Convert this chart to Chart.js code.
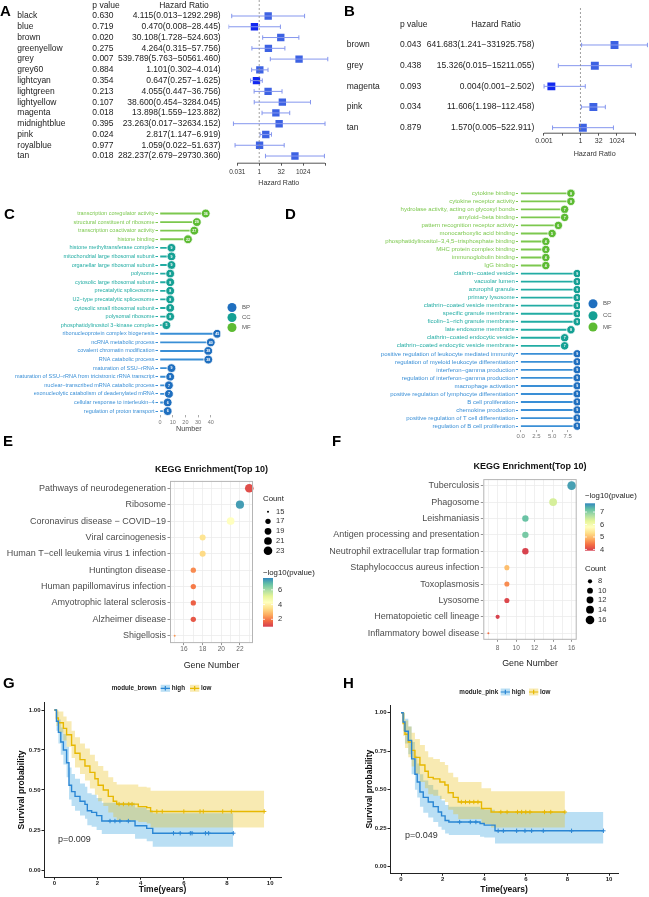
<!DOCTYPE html>
<html>
<head>
<meta charset="utf-8">
<title>Module survival and enrichment</title>
<script src="https://cdn.jsdelivr.net/npm/chart.js@4.4.1/dist/chart.umd.min.js"></script>
<style>
  body { margin: 0; background: #fff; }
  #fig { position: relative; width: 649px; height: 897px; overflow: hidden; font-family: "Liberation Sans", Arial, sans-serif; }
  #fig canvas { position: absolute; }
  .tag { position: absolute; font-weight: bold; font-size: 15px; line-height: 15px; color: #000; }
</style>
</head>
<body>
<div id="fig">
  <canvas id="cA" width="330" height="195" style="left:0;top:0"></canvas>
  <canvas id="cB" width="319" height="195" style="left:330px;top:0"></canvas>
  <canvas id="cC" width="290" height="245" style="left:0;top:200px"></canvas>
  <canvas id="cD" width="319" height="265" style="left:330px;top:180px"></canvas>
  <canvas id="cE" width="330" height="215" style="left:0;top:458px"></canvas>
  <canvas id="cF" width="319" height="215" style="left:330px;top:458px"></canvas>
  <canvas id="cG" width="330" height="225" style="left:0;top:672px"></canvas>
  <canvas id="cH" width="319" height="225" style="left:330px;top:672px"></canvas>
  <div class="tag" style="left:0;top:3px">A</div>
  <div class="tag" style="left:344px;top:3px">B</div>
  <div class="tag" style="left:4px;top:206px">C</div>
  <div class="tag" style="left:285px;top:206px">D</div>
  <div class="tag" style="left:3px;top:433px">E</div>
  <div class="tag" style="left:332px;top:433px">F</div>
  <div class="tag" style="left:3px;top:675px">G</div>
  <div class="tag" style="left:343px;top:675px">H</div>
</div>
<script>
// ================= A: cox, all modules =================
const modA = ['black', 'blue', 'brown', 'greenyellow', 'grey', 'grey60', 'lightcyan', 'lightgreen',
  'lightyellow', 'magenta', 'midnightblue', 'pink', 'royalblue', 'tan'];
const pA = [0.630, 0.719, 0.020, 0.275, 0.007, 0.884, 0.354, 0.213, 0.107, 0.018, 0.395, 0.024, 0.977, 0.018];
const hrA = [4.115, 0.470, 30.108, 4.264, 539.789, 1.101, 0.647, 4.055, 38.600, 13.898, 23.263, 2.817, 1.059, 282.237];
const loA = [0.013, 0.008, 1.728, 0.315, 5.763, 0.302, 0.257, 0.447, 0.454, 1.559, 0.017, 1.147, 0.022, 2.679];
const hiA = [1292.298, 28.445, 524.603, 57.756, 50561.460, 4.014, 1.625, 36.756, 3284.045, 123.882, 32634.152, 6.919, 51.637, 29730.360];
const tickA = [-5, 0, 5, 10, 15];            // log2(HR)
const tickLabA = ['0.031', '1', '32', '1024', ''];

// ================= B: cox, selected modules =================
const modB = ['brown', 'grey', 'magenta', 'pink', 'tan'];
const pB = [0.043, 0.438, 0.093, 0.034, 0.879];
const hrB = [641.683, 15.326, 0.004, 11.606, 1.570];
const loB = [1.241, 0.015, 0.001, 1.198, 0.005];
const hiB = [331925.758, 15211.055, 2.502, 112.458, 522.911];
const tickB = [-10, -5, 0, 5, 10, 15];
const tickLabB = ['0.001', '', '1', '32', '1024', ''];

// ================= C / D: GO lollipops =================
const cTerms = ['transcription coregulator activity', 'structural constituent of ribosome', 'transcription coactivator activity',
  'histone binding', 'histone methyltransferase complex', 'mitochondrial large ribosomal subunit',
  'organellar large ribosomal subunit', 'polysome', 'cytosolic large ribosomal subunit', 'precatalytic spliceosome',
  'U2−type precatalytic spliceosome', 'cytosolic small ribosomal subunit', 'polysomal ribosome',
  'phosphatidylinositol 3−kinase complex', 'ribonucleoprotein complex biogenesis', 'ncRNA metabolic process',
  'covalent chromatin modification', 'RNA catabolic process', 'maturation of SSU−rRNA',
  'maturation of SSU−rRNA from tricistronic rRNA transcript', 'nuclear−transcribed mRNA catabolic process',
  'exonucleolytic catabolism of deadenylated mRNA', 'cellular response to interleukin−4', 'regulation of proton transport'];
const cCount = [36, 29, 27, 22, 9, 9, 9, 8, 8, 8, 8, 8, 8, 5, 45, 40, 38, 38, 9, 8, 7, 7, 6, 6];
const cGroup = ['MF', 'MF', 'MF', 'MF', 'CC', 'CC', 'CC', 'CC', 'CC', 'CC', 'CC', 'CC', 'CC', 'CC',
  'BP', 'BP', 'BP', 'BP', 'BP', 'BP', 'BP', 'BP', 'BP', 'BP'];
const cTicks = [0, 10, 20, 30, 40];

const dTerms = ['cytokine binding', 'cytokine receptor activity', 'hydrolase activity, acting on glycosyl bonds',
  'amyloid−beta binding', 'pattern recognition receptor activity', 'monocarboxylic acid binding',
  'phosphatidylinositol−3,4,5−trisphosphate binding', 'MHC protein complex binding', 'immunoglobulin binding', 'IgG binding',
  'clathrin−coated vesicle', 'vacuolar lumen', 'azurophil granule', 'primary lysosome', 'clathrin−coated vesicle membrane',
  'specific granule membrane', 'ficolin−1−rich granule membrane', 'late endosome membrane',
  'clathrin−coated endocytic vesicle', 'clathrin−coated endocytic vesicle membrane',
  'positive regulation of leukocyte mediated immunity', 'regulation of myeloid leukocyte differentiation',
  'interferon−gamma production', 'regulation of interferon−gamma production', 'macrophage activation',
  'positive regulation of lymphocyte differentiation', 'B cell proliferation', 'chemokine production',
  'positive regulation of T cell differentiation', 'regulation of B cell proliferation'];
const dCount = [8, 8, 7, 7, 6, 5, 4, 4, 4, 4, 9, 9, 9, 9, 9, 9, 9, 8, 7, 7, 9, 9, 9, 9, 9, 9, 9, 9, 9, 9];
const dGroup = ['MF', 'MF', 'MF', 'MF', 'MF', 'MF', 'MF', 'MF', 'MF', 'MF',
  'CC', 'CC', 'CC', 'CC', 'CC', 'CC', 'CC', 'CC', 'CC', 'CC',
  'BP', 'BP', 'BP', 'BP', 'BP', 'BP', 'BP', 'BP', 'BP', 'BP'];
const dTicks = [0, 2.5, 5, 7.5];

// ================= E / F: KEGG bubbles =================
const eTerms = ['Pathways of neurodegeneration', 'Ribosome', 'Coronavirus disease − COVID−19', 'Viral carcinogenesis',
  'Human T−cell leukemia virus 1 infection', 'Huntington disease', 'Human papillomavirus infection',
  'Amyotrophic lateral sclerosis', 'Alzheimer disease', 'Shigellosis'];
const eCount = [23, 22, 21, 18, 18, 17, 17, 17, 17, 15];
const eLogP = [1.3, 7.3, 4.3, 3.6, 3.4, 2.2, 2.0, 1.6, 1.45, 2.4];
const eSizeKeys = [15, 17, 19, 21, 23];
const eBarKeys = [2, 4, 6];

const fTerms = ['Tuberculosis', 'Phagosome', 'Leishmaniasis', 'Antigen processing and presentation',
  'Neutrophil extracellular trap formation', 'Staphylococcus aureus infection', 'Toxoplasmosis', 'Lysosome',
  'Hematopoietic cell lineage', 'Inflammatory bowel disease'];
const fCount = [16, 14, 11, 11, 11, 9, 9, 9, 8, 7];
const fLogP = [7.5, 6.4, 7.2, 7.1, 3.95, 5.0, 4.6, 4.0, 3.95, 4.4];
const fSizeKeys = [8, 10, 12, 14, 16];
const fBarKeys = [4, 5, 6, 7];

// ================= G / H: Kaplan-Meier =================
const gHighT = [0, 0.1, 0.19, 0.3, 0.42, 0.57, 0.68, 0.8, 0.96, 1.19, 1.42, 1.53, 1.73, 1.96, 2.2, 3.74, 4.28, 4.56, 8.29];
const gHighS = [1, 0.93, 0.86, 0.8, 0.75, 0.67, 0.53, 0.49, 0.46, 0.43, 0.41, 0.37, 0.36, 0.34, 0.306, 0.277, 0.26, 0.23, 0.23];
const gHighL = [1, 0.87, 0.79, 0.72, 0.66, 0.58, 0.44, 0.40, 0.37, 0.34, 0.32, 0.28, 0.27, 0.25, 0.225, 0.195, 0.18, 0.145, 0.145];
const gHighU = [1, 0.99, 0.94, 0.89, 0.85, 0.77, 0.64, 0.60, 0.57, 0.54, 0.52, 0.48, 0.47, 0.45, 0.42, 0.39, 0.375, 0.355, 0.355];
const gHighCens = [2.58, 2.81, 3.04, 3.43, 5.52, 5.83, 6.3, 6.38, 7.0, 7.15, 8.29];
const gLowT = [0, 0.1, 0.19, 0.42, 0.57, 0.8, 0.96, 1.19, 1.42, 1.65, 1.88, 2.03, 2.27, 2.5, 2.73, 2.89, 3.89, 4.28, 4.46, 9.72];
const gLowS = [1, 0.95, 0.92, 0.885, 0.845, 0.78, 0.73, 0.69, 0.65, 0.61, 0.57, 0.53, 0.50, 0.46, 0.43, 0.412, 0.396, 0.39, 0.366, 0.366];
const gLowL = [1, 0.9, 0.86, 0.81, 0.77, 0.7, 0.64, 0.6, 0.56, 0.51, 0.47, 0.43, 0.4, 0.36, 0.33, 0.31, 0.3, 0.29, 0.265, 0.265];
const gLowU = [1, 1, 0.99, 0.96, 0.93, 0.87, 0.83, 0.79, 0.76, 0.72, 0.68, 0.65, 0.62, 0.58, 0.55, 0.535, 0.52, 0.515, 0.495, 0.495];
const gLowCens = [3.0, 3.2, 3.45, 3.6, 4.75, 5.0, 6.0, 6.75, 6.9, 7.8, 8.2, 9.72];

const hHighT = [0, 0.1, 0.19, 0.35, 0.51, 0.67, 0.78, 0.91, 1.07, 1.31, 1.55, 1.79, 1.95, 2.12, 2.3, 3.8, 4.0, 4.52, 9.73];
const hHighS = [1, 0.94, 0.88, 0.82, 0.70, 0.60, 0.55, 0.485, 0.45, 0.42, 0.39, 0.355, 0.33, 0.30, 0.29, 0.28, 0.27, 0.233, 0.233];
const hHighL = [1, 0.88, 0.8, 0.73, 0.6, 0.5, 0.45, 0.39, 0.35, 0.32, 0.29, 0.26, 0.24, 0.215, 0.205, 0.195, 0.19, 0.15, 0.15];
const hHighU = [1, 1, 0.96, 0.91, 0.81, 0.72, 0.67, 0.6, 0.56, 0.53, 0.5, 0.46, 0.43, 0.4, 0.39, 0.38, 0.37, 0.355, 0.355];
const hHighCens = [2.82, 3.33, 3.6, 4.67, 4.92, 5.56, 5.96, 6.28, 6.84, 8.2, 9.73];
const hLowT = [0, 0.1, 0.19, 0.35, 0.51, 0.67, 0.91, 1.15, 1.31, 1.55, 1.87, 2.11, 2.27, 2.51, 2.75, 3.87, 4.33, 7.88];
const hLowS = [1, 0.93, 0.86, 0.81, 0.755, 0.71, 0.66, 0.62, 0.58, 0.57, 0.55, 0.53, 0.48, 0.45, 0.42, 0.378, 0.355, 0.355];
const hLowL = [1, 0.85, 0.77, 0.71, 0.65, 0.6, 0.55, 0.51, 0.47, 0.46, 0.44, 0.42, 0.37, 0.34, 0.31, 0.275, 0.255, 0.255];
const hLowU = [1, 1, 0.95, 0.91, 0.87, 0.83, 0.79, 0.75, 0.71, 0.7, 0.68, 0.66, 0.61, 0.58, 0.55, 0.51, 0.49, 0.49];
const hLowCens = [2.9, 3.1, 3.3, 3.5, 3.7, 4.8, 5.1, 5.6, 5.8, 6.0, 6.2, 6.9, 7.2, 7.88];
const kmTicksX = [0, 2, 4, 6, 8, 10];
const kmTicksY = [0, 0.25, 0.5, 0.75, 1];

// ================= helpers =================
const FONT = "'Liberation Sans', Arial, sans-serif";
Chart.defaults.font.family = FONT;
Chart.defaults.color = '#333';
const $ = id => document.getElementById(id);
const font = (size, bold) => `${bold ? 'bold ' : ''}${size}px ${FONT}`;
const fixedTicks = list => s => { s.ticks = list.map(v => ({ value: v })); };

function base(pad) {
  return {
    responsive: false, animation: false, devicePixelRatio: 1, events: [],
    layout: { autoPadding: false, padding: pad },
    plugins: { legend: { display: false }, tooltip: { enabled: false } }
  };
}

const DOT = { BP: '#1f6fbf', CC: '#15a094', MF: '#5dbb33' };
const TXT = { BP: '#3a8fd6', CC: '#22aca3', MF: '#7cc84e' };
const SPECTRAL = ['#d53e4f', '#f46d43', '#fdae61', '#fee08b', '#ffffbf', '#e6f598', '#abdda4', '#66c2a5', '#3288bd'];

function spectral(t) {
  t = Math.max(0, Math.min(1, t)) * (SPECTRAL.length - 1);
  const i = Math.min(Math.floor(t), SPECTRAL.length - 2), f = t - i;
  const a = SPECTRAL[i], b = SPECTRAL[i + 1];
  const ch = (c, k) => parseInt(c.substr(1 + 2 * k, 2), 16);
  const mix = k => Math.round(ch(a, k) + (ch(b, k) - ch(a, k)) * f);
  return `rgb(${mix(0)},${mix(1)},${mix(2)})`;
}

// ================= forest plots =================
function forest(id, names, pv, hr, lo, hi, ticks, tickLab, o) {
  const ciCol = '#8596ee';
  const datasets = [{
    type: 'line', data: [{ x: 0, y: o.yMin }, { x: 0, y: o.yMax }],
    borderColor: '#888', borderWidth: 0.8, borderDash: [2, 2], pointRadius: 0
  }];
  names.forEach((n, i) => datasets.push({
    type: 'line', data: [{ x: Math.log2(lo[i]), y: i }, { x: Math.log2(hi[i]), y: i }],
    borderColor: ciCol, borderWidth: 1, pointStyle: 'line', rotation: 90,
    pointRadius: 2.2, pointBorderColor: ciCol, pointBorderWidth: 1
  }));
  datasets.push({
    type: 'scatter', data: hr.map((v, i) => ({ x: Math.log2(v), y: i })),
    pointStyle: 'rect', pointRadius: o.box, pointBorderWidth: 0,
    pointBackgroundColor: hr.map(v => v < 1 ? '#1228f0' : '#3d62e3')
  });

  const opts = base({ left: o.left, right: o.right, top: o.top, bottom: 0 });
  opts.scales = {
    x: {
      type: 'linear', min: o.xMin, max: o.xMax,
      afterFit: s => { s.height = o.axisH; },
      afterBuildTicks: fixedTicks(ticks),
      ticks: { callback: (v, i) => tickLab[i], font: { size: o.tickSize }, color: '#333', padding: o.tickPad, maxRotation: 0, autoSkip: false },
      grid: { drawOnChartArea: false, tickLength: 3, color: '#555' },
      border: { display: false },
      title: { display: true, text: 'Hazard Ratio', font: { size: o.titleSize }, color: '#333', padding: { top: 0, bottom: o.titlePB } }
    },
    y: { type: 'linear', display: false, reverse: true, min: o.yMin, max: o.yMax }
  };

  new Chart($(id), {
    type: 'scatter', data: { datasets }, options: opts,
    plugins: [{
      id: 'forestText',
      afterDraw(chart) {
        const { ctx, scales: { x, y } } = chart;
        ctx.save();
        // axis line only across the labelled range
        const ay = chart.chartArea.bottom + 0.5;
        ctx.strokeStyle = '#555'; ctx.lineWidth = 1;
        ctx.beginPath();
        ctx.moveTo(x.getPixelForValue(ticks[0]), ay);
        ctx.lineTo(x.getPixelForValue(ticks[ticks.length - 1]), ay);
        ctx.stroke();
        // table columns
        ctx.fillStyle = '#222'; ctx.textBaseline = 'middle'; ctx.font = font(o.textSize);
        ctx.textAlign = 'left';
        ctx.fillText('p value', o.pX, o.headY);
        ctx.textAlign = 'center';
        ctx.fillText('Hazard Ratio', o.hrHeadX, o.headY);
        names.forEach((n, i) => {
          const py = y.getPixelForValue(i);
          ctx.textAlign = 'left';
          ctx.fillText(n, o.nameX, py);
          ctx.fillText(pv[i].toFixed(3), o.pX, py);
          ctx.textAlign = 'right';
          ctx.fillText(`${hr[i].toFixed(3)}(${lo[i].toFixed(3)}−${hi[i].toFixed(3)})`, o.hrX, py);
        });
        ctx.restore();
      }
    }]
  });
}

forest('cA', modA, pA, hrA, loA, hiA, tickA, tickLabA, {
  left: 228.5, right: 1, top: 0, xMin: -7, xMax: 15.9, yMin: -1.486, yMax: 13.62,
  axisH: 32.3, tickSize: 6.5, tickPad: 2.4, titleSize: 7, titlePB: 7.8, box: 5.2,
  textSize: 8.5, nameX: 17.3, pX: 92.3, hrX: 220.7, headY: 6, hrHeadX: 184
});
forest('cB', modB, pB, hrB, loB, hiB, tickB, tickLabB, {
  left: 210.3, right: 0, top: 8, xMin: -11, xMax: 18.77, yMin: -1.79, yMax: 4.243,
  axisH: 62.3, tickSize: 7, tickPad: 0.8, titleSize: 7.2, titlePB: 36.6, box: 5.6,
  textSize: 8.5, nameX: 16.7, pX: 70, hrX: 204.3, headY: 24.3, hrHeadX: 166
});

// ================= GO lollipops =================
function lollipop(id, terms, counts, groups, o) {
  const opts = base({ left: 0, right: o.right, top: o.top, bottom: 0 });
  opts.indexAxis = 'y';
  opts.scales = {
    y: {
      type: 'category', afterFit: s => { s.width = o.yW; },
      ticks: { autoSkip: false, font: { size: o.labSize }, color: c => TXT[groups[c.index]], padding: 1 },
      grid: { drawOnChartArea: false, offset: false, tickLength: 2, color: c => TXT[groups[c.index]] },
      border: { display: false }
    },
    x: {
      type: 'linear', min: o.xMin, max: o.xMax,
      afterFit: s => { s.height = o.axisH; },
      afterBuildTicks: fixedTicks(o.ticks),
      ticks: { font: { size: o.tickSize }, color: '#777', padding: o.tickPad, maxRotation: 0, autoSkip: false, callback: o.fmt },
      grid: { drawOnChartArea: false, tickLength: 2, color: '#aaa' },
      border: { display: false },
      title: { display: !!o.title, text: o.title || '', font: { size: 7.2 }, color: '#444', padding: { top: 0, bottom: o.titlePB || 0 } }
    }
  };
  new Chart($(id), {
    type: 'bar',
    data: {
      labels: terms,
      datasets: [
        { type: 'line', data: counts, showLine: false, order: 0, pointRadius: o.r, pointBorderWidth: 0.8,
          pointBorderColor: '#fff', pointBackgroundColor: groups.map(g => DOT[g]) },
        { type: 'bar', data: counts, order: 1, barThickness: 1.2, backgroundColor: groups.map(g => TXT[g]) }
      ]
    },
    options: opts,
    plugins: [{
      id: 'lolliText',
      afterDatasetsDraw(chart) {
        const { ctx } = chart;
        ctx.save();
        ctx.fillStyle = '#fff'; ctx.font = font(o.numSize, true);
        ctx.textAlign = 'center'; ctx.textBaseline = 'middle';
        chart.getDatasetMeta(0).data.forEach((p, i) => ctx.fillText(String(counts[i]), p.x, p.y + 0.3));
        ['BP', 'CC', 'MF'].forEach((g, k) => {
          ctx.fillStyle = DOT[g];
          ctx.beginPath(); ctx.arc(o.legX, o.legY[k], 4.5, 0, 2 * Math.PI); ctx.fill();
          ctx.fillStyle = '#555'; ctx.font = font(6); ctx.textAlign = 'left';
          ctx.fillText(g, o.legX + 10, o.legY[k]);
        });
        ctx.restore();
      }
    }]
  });
}

lollipop('cC', cTerms, cCount, cGroup, {
  right: 69.7, top: 9.2, yW: 157.5, axisH: 29.6, xMin: -2, xMax: 47.5, ticks: cTicks,
  labSize: 5.5, tickSize: 5.5, tickPad: 1.3, title: 'Number', titlePB: 11.7, r: 4.4, numSize: 3.6,
  legX: 232, legY: [107.5, 117.5, 127.5]
});
lollipop('cD', dTerms, dCount, dGroup, {
  right: 69, top: 9.3, yW: 187.9, axisH: 14.9, xMin: -0.45, xMax: 9.45, ticks: dTicks,
  fmt: v => v.toFixed(1), labSize: 6, tickSize: 6, tickPad: 1, r: 4.2, numSize: 3.6,
  legX: 263, legY: [123.7, 135.7, 147]
});

// ================= KEGG bubbles =================
function bubble(id, terms, counts, logp, o) {
  const rOf = c => 1 + 3.3 * Math.sqrt((c - o.cMin) / (o.cMax - o.cMin));
  const frac = v => (v - o.vMin) / (o.vMax - o.vMin);
  const opts = base({ left: 0, right: o.right, top: o.top, bottom: 0 });
  opts.scales = {
    x: {
      type: 'linear', min: o.xMin, max: o.xMax,
      afterFit: s => { s.height = o.axisH; },
      afterBuildTicks: fixedTicks(o.grid),
      ticks: { font: { size: 6.5 }, color: '#666', padding: o.tickPad, maxRotation: 0, autoSkip: false,
        callback: v => o.ticks.includes(v) ? String(v) : '' },
      grid: { color: '#ececec', lineWidth: 0.8, tickLength: 2,
        tickColor: c => o.ticks.includes(c.tick.value) ? '#777' : 'rgba(0,0,0,0)' },
      border: { display: false },
      title: { display: true, text: 'Gene Number', font: { size: 8.9 }, color: '#222', padding: { top: 0, bottom: o.titlePB } }
    },
    y: {
      type: 'linear', reverse: true, min: o.yMin, max: o.yMax,
      afterFit: s => { s.width = o.yW; },
      afterBuildTicks: fixedTicks(terms.map((t, i) => i)),
      ticks: { font: { size: 9 }, color: '#4d4d4d', padding: 1.5, autoSkip: false, callback: v => terms[v] },
      grid: { color: '#ececec', lineWidth: 0.8, tickLength: 2.5, tickColor: '#777' },
      border: { display: false }
    }
  };
  new Chart($(id), {
    type: 'bubble',
    data: {
      datasets: [{
        data: counts.map((c, i) => ({ x: c, y: i, r: rOf(c) })),
        backgroundColor: logp.map(v => spectral(frac(v))), borderWidth: 0, clip: false
      }]
    },
    options: opts,
    plugins: [{
      id: 'keggDecor',
      afterDraw(chart) {
        const { ctx, chartArea: a } = chart;
        ctx.save();
        ctx.strokeStyle = '#b5b5b5'; ctx.lineWidth = 1;
        ctx.strokeRect(a.left + 0.5, a.top + 0.5, a.width - 1, a.height - 1);
        ctx.fillStyle = '#111'; ctx.font = font(9, true);
        ctx.textAlign = 'center'; ctx.textBaseline = 'middle';
        ctx.fillText('KEGG Enrichment(Top 10)', (a.left + a.right) / 2, o.titleY);
        // size legend
        ctx.textAlign = 'left'; ctx.fillStyle = '#222';
        ctx.font = font(7.8);
        ctx.fillText('Count', o.cntX, o.cntTitleY);
        ctx.font = font(7.5);
        o.sizeKeys.forEach((c, k) => {
          ctx.fillStyle = '#000';
          ctx.beginPath(); ctx.arc(o.cntX + 5, o.cntY[k], rOf(c), 0, 2 * Math.PI); ctx.fill();
          ctx.fillStyle = '#333';
          ctx.fillText(String(c), o.cntX + 13, o.cntY[k]);
        });
        // colour bar
        ctx.fillStyle = '#222'; ctx.font = font(7.8);
        ctx.fillText('−log10(pvalue)', o.barX, o.barTitleY);
        const g = ctx.createLinearGradient(0, o.barBot, 0, o.barTop);
        SPECTRAL.forEach((c, k) => g.addColorStop(k / (SPECTRAL.length - 1), c));
        ctx.fillStyle = g;
        ctx.fillRect(o.barX, o.barTop, 10, o.barBot - o.barTop);
        ctx.font = font(7.5);
        o.barKeys.forEach(v => {
          const yy = o.barBot - frac(v) * (o.barBot - o.barTop);
          ctx.strokeStyle = '#fff'; ctx.lineWidth = 0.8;
          ctx.beginPath();
          ctx.moveTo(o.barX, yy); ctx.lineTo(o.barX + 2, yy);
          ctx.moveTo(o.barX + 8, yy); ctx.lineTo(o.barX + 10, yy);
          ctx.stroke();
          ctx.fillStyle = '#333';
          ctx.fillText(String(v), o.barX + 15, yy);
        });
        ctx.restore();
      }
    }]
  });
}

bubble('cE', eTerms, eCount, eLogP, {
  right: 77, top: 22.9, yW: 170, axisH: 29.9, xMin: 14.5, xMax: 23.4, yMin: -0.45, yMax: 9.45,
  grid: [15, 16, 17, 18, 19, 20, 21, 22, 23], ticks: [16, 18, 20, 22], tickPad: 0.5, titlePB: 2.6,
  cMin: 15, cMax: 23, vMin: 1.0, vMax: 7.6, titleY: 12,
  cntX: 263, cntTitleY: 41, cntY: [53.7, 63.3, 73.3, 83, 92.7], sizeKeys: eSizeKeys,
  barX: 263, barTitleY: 114.7, barTop: 120, barBot: 168.7, barKeys: eBarKeys
});
bubble('cF', fTerms, fCount, fLogP, {
  right: 72.3, top: 21.1, yW: 153.3, axisH: 33.2, xMin: 6.45, xMax: 16.55, yMin: -0.4, yMax: 9.4,
  grid: [7, 8, 9, 10, 11, 12, 13, 14, 15, 16], ticks: [8, 10, 12, 14, 16], tickPad: 2.3, titlePB: 4.6,
  cMin: 7, cMax: 16, vMin: 3.9, vMax: 7.7, titleY: 9,
  cntX: 255, cntTitleY: 111, cntY: [123.3, 132.7, 142, 151.7, 162], sizeKeys: fSizeKeys,
  barX: 255, barTitleY: 38, barTop: 45.3, barBot: 92.7, barKeys: fBarKeys
});

// ================= Kaplan-Meier =================
const BLUE = '#2a86d4', BLUE_BAND = 'rgba(46,159,223,0.33)';
const YEL = '#e7b800', YEL_BAND = 'rgba(231,184,0,0.3)';
const pts = (T, V) => T.map((t, i) => ({ x: t, y: V[i] }));
function stepAt(T, S, t) { let v = S[0]; T.forEach((tt, i) => { if (tt <= t) v = S[i]; }); return v; }

function km(id, high, low, o) {
  const curve = (d, col) => ({ data: pts(d.T, d.S), borderColor: col, borderWidth: 1.4, stepped: true, pointRadius: 0, fill: false, order: 0 });
  const marks = (d, col) => ({ data: d.cens.map(t => ({ x: t, y: stepAt(d.T, d.S, t) })), showLine: false, pointStyle: 'cross',
    pointRadius: 2.2, pointBorderColor: col, pointBorderWidth: 1, order: 0 });
  const band = (d, fillCol) => [
    { data: pts(d.T, d.U), borderColor: 'rgba(0,0,0,0)', borderWidth: 0, stepped: true, pointRadius: 0, fill: false, order: 2 },
    { data: pts(d.T, d.L), borderColor: 'rgba(0,0,0,0)', borderWidth: 0, stepped: true, pointRadius: 0, fill: '-1', backgroundColor: fillCol, order: 2 }
  ];
  const datasets = [curve(high, BLUE), curve(low, YEL), marks(high, BLUE), marks(low, YEL),
    ...band(low, YEL_BAND), ...band(high, BLUE_BAND)];

  const opts = base({ left: 0, right: o.right, top: o.top, bottom: 0 });
  opts.scales = {
    x: {
      type: 'linear', min: o.xMin, max: o.xMax,
      afterFit: s => { s.height = o.axisH; },
      afterBuildTicks: fixedTicks(kmTicksX),
      ticks: { font: { size: 6, weight: 'bold' }, color: '#222', padding: 0, maxRotation: 0, autoSkip: false },
      grid: { drawOnChartArea: false, tickLength: 2.5, color: '#222' },
      border: { display: true, color: '#222', width: 1 },
      title: { display: true, text: 'Time(years)', font: { size: 8.5, weight: 'bold' }, color: '#111', padding: { top: 0, bottom: o.xTitlePB } }
    },
    y: {
      type: 'linear', min: o.yMin, max: o.yMax,
      afterFit: s => { s.width = o.yW; },
      afterBuildTicks: fixedTicks(kmTicksY),
      ticks: { font: { size: 6, weight: 'bold' }, color: '#222', padding: 1, autoSkip: false, callback: v => v.toFixed(2) },
      grid: { drawOnChartArea: false, tickLength: 2.5, color: '#222' },
      border: { display: true, color: '#222', width: 1 },
      title: { display: true, text: 'Survival probability', font: { size: 8.5, weight: 'bold' }, color: '#111', padding: { top: o.yTitlePT, bottom: 0 } }
    }
  };
  new Chart($(id), {
    type: 'line', data: { datasets }, options: opts,
    plugins: [{
      id: 'kmDecor',
      afterDraw(chart) {
        const { ctx, scales: { x, y } } = chart;
        ctx.save();
        ctx.textBaseline = 'middle'; ctx.textAlign = 'left';
        ctx.fillStyle = '#333'; ctx.font = font(9);
        ctx.fillText(o.pText, x.getPixelForValue(o.pX), y.getPixelForValue(o.pY));
        // legend
        ctx.fillStyle = '#222'; ctx.font = font(6.3, true);
        ctx.fillText(o.legTitle, o.legX, o.legY);
        [[o.keyHigh, 'high', BLUE, BLUE_BAND], [o.keyLow, 'low', YEL, YEL_BAND]].forEach(([kx, lab, col, fillCol]) => {
          ctx.fillStyle = fillCol; ctx.fillRect(kx, o.legY - 3.5, 9.3, 7);
          ctx.strokeStyle = col; ctx.lineWidth = 1.2;
          ctx.beginPath();
          ctx.moveTo(kx, o.legY); ctx.lineTo(kx + 9.3, o.legY);
          ctx.moveTo(kx + 4.65, o.legY - 2.2); ctx.lineTo(kx + 4.65, o.legY + 2.2);
          ctx.stroke();
          ctx.fillStyle = '#222';
          ctx.fillText(lab, kx + 11, o.legY);
        });
        ctx.restore();
      }
    }]
  });
}

km('cG',
  { T: gHighT, S: gHighS, L: gHighL, U: gHighU, cens: gHighCens },
  { T: gLowT, S: gLowS, L: gLowL, U: gLowU, cens: gLowCens },
  { right: 49, top: 30.8, yW: 44, axisH: 19.8, xMin: -0.477, xMax: 10.5, yMin: -0.045, yMax: 1.045,
    xTitlePB: 1.9, yTitlePT: 16.9, pText: 'p=0.009', pX: 0.17, pY: 0.19,
    legTitle: 'module_brown', legX: 111.7, legY: 16.3, keyHigh: 160.7, keyLow: 190 });
km('cH',
  { T: hHighT, S: hHighS, L: hHighL, U: hHighU, cens: hHighCens },
  { T: hLowT, S: hLowS, L: hLowL, U: hLowU, cens: hLowCens },
  { right: 30.7, top: 33, yW: 60, axisH: 23.7, xMin: -0.529, xMax: 10.447, yMin: -0.043, yMax: 1.05,
    xTitlePB: 2.6, yTitlePT: 34.9, pText: 'p=0.049', pX: 0.19, pY: 0.2,
    legTitle: 'module_pink', legX: 129.3, legY: 20, keyHigh: 170.7, keyLow: 199 });
</script>
</body>
</html>
